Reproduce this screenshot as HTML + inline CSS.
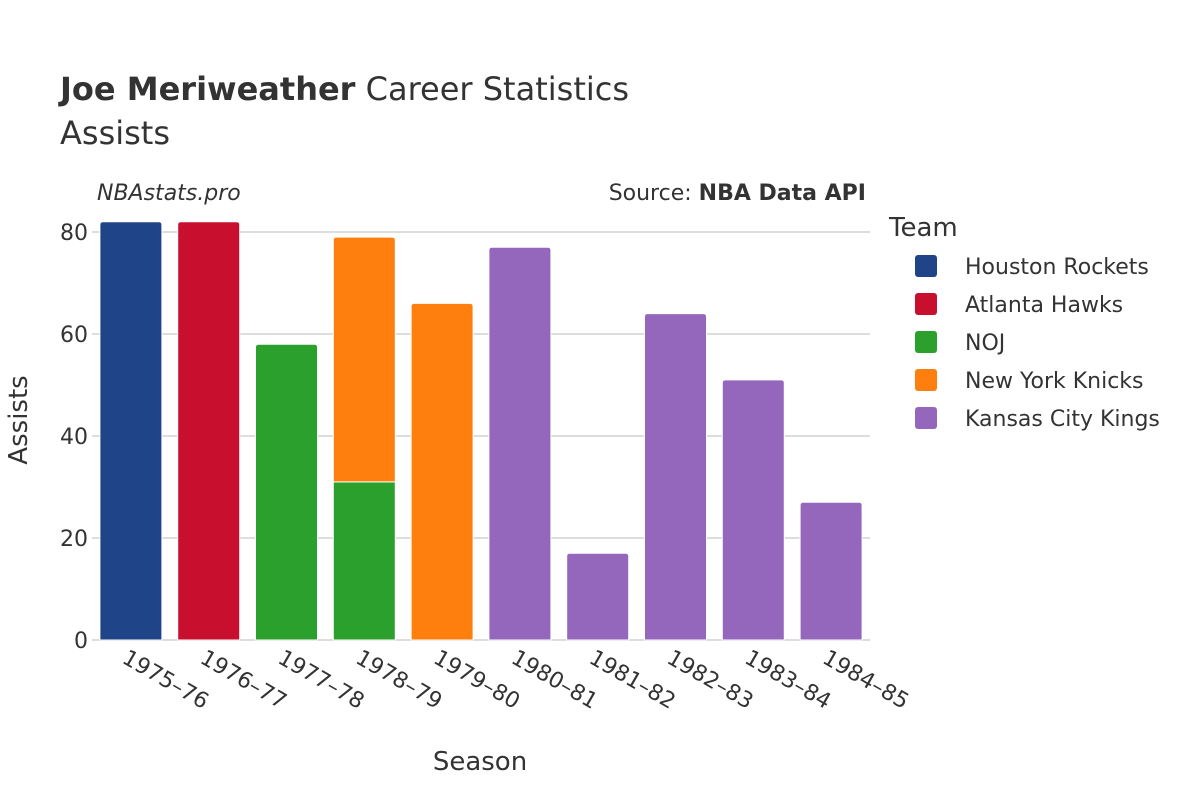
<!DOCTYPE html>
<html><head><meta charset="utf-8"><style>
body{margin:0;background:#fff;font-family:"DejaVu Sans","Liberation Sans",sans-serif;}
svg text{font-family:"DejaVu Sans","Liberation Sans",sans-serif;fill:#333;}
</style></head><body>
<svg id="chart" width="1200" height="800">
<text x="60" y="100" font-size="32"><tspan font-weight="bold">Joe Meriweather</tspan> Career Statistics</text>
<text x="60" y="144" font-size="32">Assists</text>
<text x="97" y="200" font-size="22" font-style="italic">NBAstats.pro</text>
<text x="866" y="200" font-size="22" text-anchor="end">Source: <tspan font-weight="bold">NBA Data API</tspan></text>
<g id="grid"></g>
<g id="bars"></g>
<g id="xticks"></g>
<text x="480" y="770" font-size="26" text-anchor="middle">Season</text>
<text transform="translate(27,420) rotate(-90)" font-size="26" text-anchor="middle">Assists</text>
<g id="legend"></g>
</svg>
<script>
const seasons=["1975–76","1976–77","1977–78","1978–79","1979–80","1980–81","1981–82","1982–83","1983–84","1984–85"];
const teams=["Houston Rockets","Atlanta Hawks","NOJ","New York Knicks","Kansas City Kings"];
const colors=["#1f4488","#c8102e","#2ca02c","#ff7f0e","#9467bd"];
const houston=[82,0,0,0,0,0,0,0,0,0];
const atlanta=[0,82,0,0,0,0,0,0,0,0];
const noj=[0,0,58,31,0,0,0,0,0,0];
const knicks=[0,0,0,48,66,0,0,0,0,0];
const kings=[0,0,0,0,0,77,17,64,51,27];
const series=[houston,atlanta,noj,knicks,kings];
const yTicks=[0,20,40,60,80];
const NS="http://www.w3.org/2000/svg";
const x0=92,x1=870,y0=640,yScale=408/80;
const band=(x1-x0)/seasons.length,bw=62;
const y=v=>y0-v*yScale;
const xc=i=>x0+band*(i+0.5);
function mk(t,a,p){const e=document.createElementNS(NS,t);for(const k in a)e.setAttribute(k,a[k]);p.appendChild(e);return e;}
const grid=document.getElementById('grid');
yTicks.forEach(t=>{
  const l=mk('line',{x1:x0,x2:x1,y1:y(t),y2:y(t),stroke:t===0?'#ddd':'#bbb','stroke-width':t===0?2:1},grid);
  
  
  const tx=mk('text',{x:x0-4,y:y(t)+8,'font-size':22,'text-anchor':'end'},grid);
  tx.textContent=t;
  
  
});
const bars=document.getElementById('bars');
seasons.forEach((s,i)=>{
  let base=0;
  const stack=series.map((arr,k)=>({k,v:arr[i]})).filter(o=>o.v>0);
  stack.forEach((o,j)=>{
    const top=base+o.v,isTop=j===stack.length-1;
    const xl=xc(i)-bw/2,yt=y(top),yb=y(base),r=isTop?3:0;
    const d=`M${xl},${yb} L${xl},${yt+r} Q${xl},${yt} ${xl+r},${yt} L${xl+bw-r},${yt} Q${xl+bw},${yt} ${xl+bw},${yt+r} L${xl+bw},${yb} Z`;
    const p=mk('path',{d:d,fill:colors[o.k],stroke:'#fff','stroke-width':1},bars);
    
    
    base=top;
  });
  const t=mk('text',{transform:`translate(${xc(i)-10},${y0+22}) rotate(30)`,'font-size':22},document.getElementById('xticks'));
  t.textContent=s;
  
  
});
const lg=document.getElementById('legend');
const lt=mk('text',{x:889,y:236,'font-size':26},lg);
lt.textContent='Team';


teams.forEach((n,k)=>{
  const g=mk('g',{},lg);
  
  
  const cy=266+k*38;
  mk('rect',{x:915,y:cy-11,width:22,height:22,rx:3,fill:colors[k]},g);
  const t=mk('text',{x:965,y:cy+8,'font-size':22},g);
  t.textContent=n;
});
</script>
</body></html>
